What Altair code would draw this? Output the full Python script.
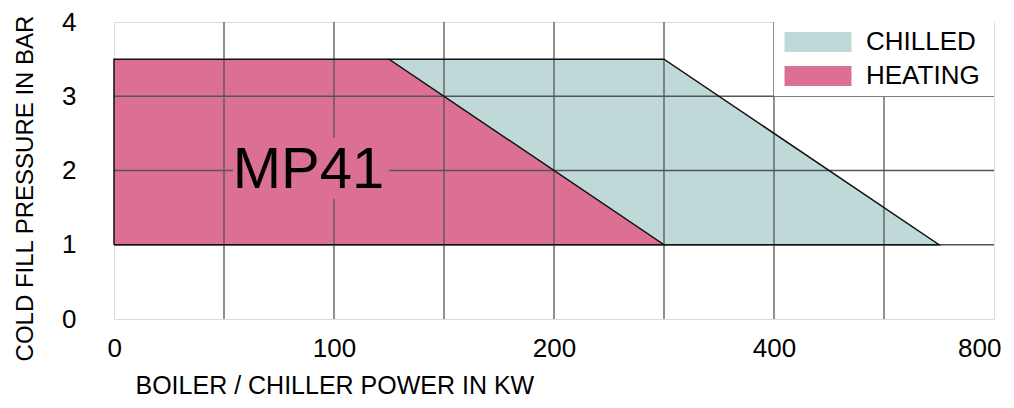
import altair as alt
import pandas as pd

# ---- data ----
power_ticks = [0, 100, 200, 400, 800]          # labelled x ticks (kW)
power_grid = [50, 100, 150, 200, 300, 400, 600]  # vertical grid lines
pressure_ticks = [0, 1, 2, 3, 4]
pressure_grid = [1, 2, 3]

series_names = ["CHILLED", "HEATING"]
series_colors = ["#BFD9D9", "#DC7093"]

chilled_power = [0, 300, 700]
chilled_pressure = [3.5, 3.5, 1]
heating_power = [0, 125, 300]
heating_pressure = [3.5, 3.5, 1]
min_pressure = 1

heating_outline_power = [0, 0, 125, 300, 0]
heating_outline_pressure = [1, 3.5, 3.5, 1, 1]
chilled_outline_power = [125, 300, 700, 300]
chilled_outline_pressure = [3.5, 3.5, 1, 1]

label_text = ["MP41"]
label_power = [54]
label_pressure = [2]
label_box_power = [54, 125]
label_box_pressure = [1.62, 2.44]

legend_cell_power = [400, 800]
legend_cell_pressure = [3, 4]

FONT = "Liberation Sans"

xscale = alt.Scale(domain=power_ticks, range=[0, 220, 440, 660, 880], nice=False, zero=False)
yscale = alt.Scale(domain=[0, 4], nice=False)
cscale = alt.Scale(domain=series_names, range=series_colors)

area_df = pd.DataFrame(
    [{"series": "CHILLED", "p": p, "bar": b, "base": min_pressure} for p, b in zip(chilled_power, chilled_pressure)]
    + [{"series": "HEATING", "p": p, "bar": b, "base": min_pressure} for p, b in zip(heating_power, heating_pressure)]
)
outline_df = pd.DataFrame(
    [{"series": "HEATING", "i": i, "p": p, "bar": b} for i, (p, b) in enumerate(zip(heating_outline_power, heating_outline_pressure))]
    + [{"series": "CHILLED", "i": i, "p": p, "bar": b} for i, (p, b) in enumerate(zip(chilled_outline_power, chilled_outline_pressure))]
)
vgrid_df = pd.DataFrame({"p": power_grid})
hgrid_df = pd.DataFrame({"bar": pressure_grid})

x_axis = alt.Axis(
    values=power_ticks, grid=False, ticks=False, domain=False,
    labelFlush=True, labelFlushOffset=7, format="d",
    labelFont=FONT, labelFontSize=26, labelColor="#000", labelPadding=16,
    title="BOILER / CHILLER POWER IN KW", titleFont=FONT, titleFontSize=25,
    titleFontWeight="normal", titleColor="#000", titleX=21, titleY=74,
    titleAlign="left", titleBaseline="alphabetic",
)
y_axis = alt.Axis(
    values=pressure_ticks, grid=False, ticks=False, domain=False, format="d",
    labelFont=FONT, labelFontSize=26, labelColor="#000", labelPadding=38,
    title="COLD FILL PRESSURE IN BAR", titleFont=FONT, titleFontSize=24,
    titleFontWeight="normal", titleColor="#000", titleX=-82, titleY=166,
    titleAlign="center", titleBaseline="alphabetic", titleAngle=270,
)

legend = alt.Legend(
    orient="none", legendX=687, legendY=3, title=None, padding=0,
    symbolType="M-2,-0.6H2V0.6H-2Z", symbolSize=1122, symbolStrokeWidth=0,
    symbolOpacity=1, labelFont=FONT, labelFontSize=26, labelColor="#000",
    labelOffset=31, rowPadding=4,
)

chilled_area = alt.Chart(area_df).transform_filter(alt.datum.series == "CHILLED").mark_area(opacity=1).encode(
    x=alt.X("p:Q", scale=xscale, axis=x_axis),
    y=alt.Y("bar:Q", scale=yscale, axis=y_axis),
    y2="base:Q",
    color=alt.Color("series:N", scale=cscale, legend=legend),
)
heating_area = alt.Chart(area_df).transform_filter(alt.datum.series == "HEATING").mark_area(opacity=1).encode(
    x=alt.X("p:Q", scale=xscale),
    y=alt.Y("bar:Q", scale=yscale),
    y2="base:Q",
    color=alt.Color("series:N", scale=cscale, legend=legend),
)

vgrid = alt.Chart(vgrid_df).mark_rule(color="#555", strokeWidth=1.3).encode(x=alt.X("p:Q", scale=xscale))
hgrid = alt.Chart(hgrid_df).mark_rule(color="#555", strokeWidth=1.3).encode(y=alt.Y("bar:Q", scale=yscale))

legend_bg = alt.Chart(pd.DataFrame({
    "p": [legend_cell_power[0]], "p2": [legend_cell_power[1]],
    "b": [legend_cell_pressure[0]], "b2": [legend_cell_pressure[1]],
})).mark_rect(color="white").encode(
    x=alt.X("p:Q", scale=xscale), x2="p2:Q",
    y=alt.Y("b:Q", scale=yscale), y2="b2:Q",
)

outline = alt.Chart(outline_df).mark_line(color="#111", strokeWidth=1.5).encode(
    x=alt.X("p:Q", scale=xscale),
    y=alt.Y("bar:Q", scale=yscale),
    detail="series:N",
    order="i:Q",
)

label_bg = alt.Chart(pd.DataFrame({
    "p": [label_box_power[0]], "p2": [label_box_power[1]],
    "b": [label_box_pressure[0]], "b2": [label_box_pressure[1]],
})).mark_rect(color=series_colors[1]).encode(
    x=alt.X("p:Q", scale=xscale), x2="p2:Q",
    y=alt.Y("b:Q", scale=yscale), y2="b2:Q",
)
label = alt.Chart(pd.DataFrame({"t": label_text, "p": label_power, "b": label_pressure})).mark_text(
    font=FONT, fontSize=58, align="left", baseline="middle", color="#000"
).encode(
    x=alt.X("p:Q", scale=xscale),
    y=alt.Y("b:Q", scale=yscale),
    text="t:N",
)

chart = alt.layer(
    chilled_area, heating_area, vgrid, hgrid, legend_bg, outline, label_bg, label
).properties(
    width=880, height=297,
    autosize=alt.AutoSizeParams(type="none"),
    padding={"left": 106, "top": 14, "right": 12, "bottom": 81},
).configure_view(
    stroke="#333", strokeWidth=1.5
).configure(background="white")

chart.save("out.html", embed_options={"renderer": "svg", "actions": False})
